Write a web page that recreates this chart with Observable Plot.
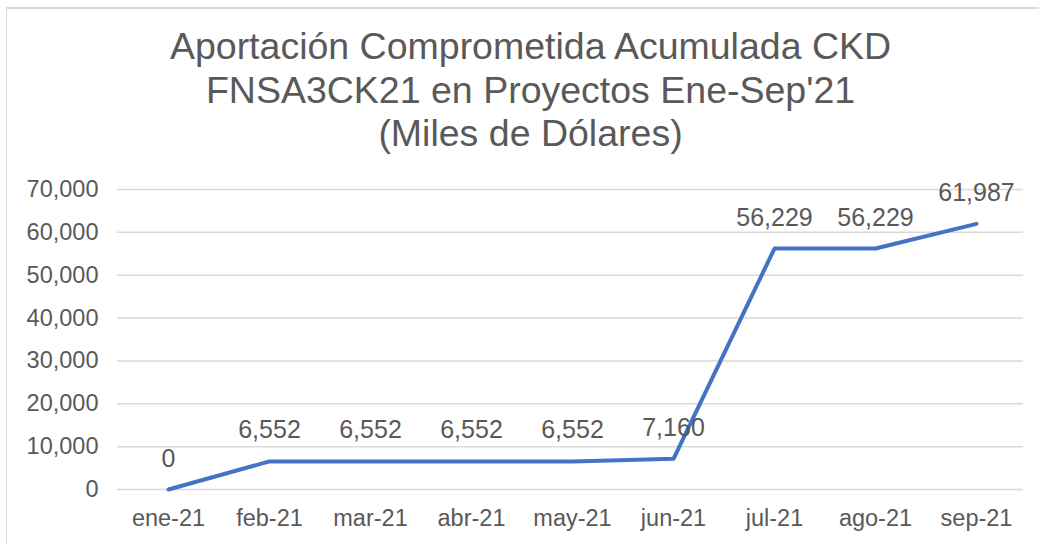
<!DOCTYPE html>
<html>
<head>
<meta charset="utf-8">
<script src="https://cdn.jsdelivr.net/npm/d3@7"></script>
<script src="https://cdn.jsdelivr.net/npm/@observablehq/plot@0.6"></script>
<style>
  html, body { margin: 0; padding: 0; background: #fff; }
  body { width: 1039px; height: 544px; overflow: hidden; position: relative; font-family: "Liberation Sans", Arial, sans-serif; }
  #frame { position: absolute; left: 6px; top: 7px; width: 1200px; height: 700px; border-left: 1px solid #d9d9d9; border-top: 2px solid #d9d9d9; box-sizing: border-box; pointer-events: none; }
  #title { position: relative; left: 11px; width: 1039px; height: 165px; box-sizing: border-box; padding-top: 25px; text-align: center; color: #595959; font-size: 37.5px; line-height: 43.5px; }
  #chart { position: absolute; left: 0; top: 165px; }
</style>
</head>
<body>
<div id="frame"></div>
<div id="title">Aportación Comprometida Acumulada CKD<br>FNSA3CK21 en Proyectos Ene-Sep'21<br>(Miles de Dólares)</div>
<div id="chart"></div>
<script>
const months = ["ene-21", "feb-21", "mar-21", "abr-21", "may-21", "jun-21", "jul-21", "ago-21", "sep-21"];
const values = [0, 6552, 6552, 6552, 6552, 7160, 56229, 56229, 61987];
const yTicks = [0, 10000, 20000, 30000, 40000, 50000, 60000, 70000];

const data = months.map((m, i) => ({month: m, value: values[i]}));
const fmt = d3.format(",");

const chart = Plot.plot({
  width: 1039,
  height: 379,
  marginLeft: 117,
  marginRight: 12,
  marginTop: 24,
  marginBottom: 55,
  style: {fontFamily: "'Liberation Sans', Arial, sans-serif", color: "#595959", background: "transparent"},
  x: {type: "point", domain: months, padding: 0.5, label: null, tickSize: 0, tickPadding: 20},
  y: {domain: [0, 70000], ticks: yTicks, tickFormat: fmt, label: null, tickSize: 0, tickPadding: 20},
  marks: [
    Plot.ruleY(yTicks, {stroke: "#d9d9d9", strokeWidth: 1.5, insetRight: 4}),
    Plot.axisY({ticks: yTicks, tickFormat: fmt, tickSize: 0, tickPadding: 19, label: null, fontSize: 23.5, fill: "#595959"}),
    Plot.axisX({tickSize: 0, tickPadding: 20, label: null, fontSize: 23.5, fill: "#595959"}),
    Plot.line(data, {x: "month", y: "value", stroke: "#4472C4", strokeWidth: 4, strokeLinejoin: "round", strokeLinecap: "round"}),
    Plot.text(data, {x: "month", y: "value", text: d => fmt(d.value), dy: -31, fontSize: 25, fill: "#595959"})
  ]
});
document.getElementById("chart").appendChild(chart);
</script>
</body>
</html>
